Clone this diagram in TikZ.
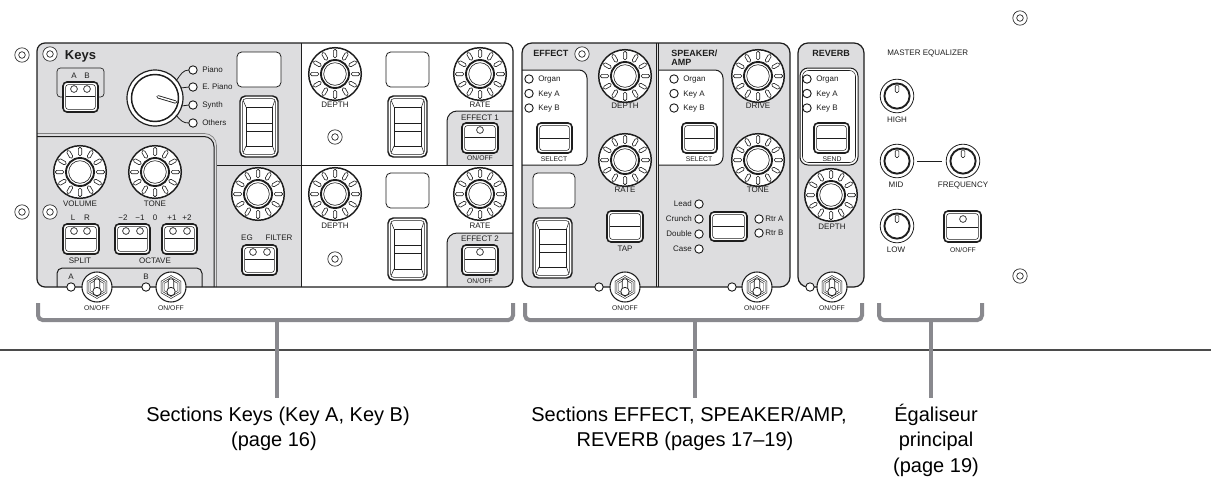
\documentclass[tikz,border=0pt]{standalone}
\usepackage{fontspec}
\setmainfont{Liberation Sans}
\usetikzlibrary{calc}
\definecolor{panelgray}{RGB}{221,221,223}
\definecolor{brkgray}{RGB}{137,137,142}
\definecolor{rulegray}{RGB}{75,75,75}
\definecolor{ink}{RGB}{30,30,30}
\newcommand\PScrew[2]{\draw[ink,line width=0.5pt,fill=white] (#1,#2) circle[radius=7.2]; \draw[ink,line width=0.5pt] (#1,#2) circle[radius=3.3];}
\newcommand\PLed[2]{\draw[ink,line width=0.7pt,fill=white] (#1,#2) circle[radius=4.2];}
\newcommand\PBLed[2]{\draw[ink,line width=0.5pt,fill=white] (#1,#2) circle[radius=3.4];}
\newcommand\PBtn[5]{%
 \draw[ink,line width=1.2pt,fill=white,rounded corners=3pt] (#1,#2) rectangle (#3,#4);
 \draw[ink,line width=0.4pt,rounded corners=2pt] ({#1+2.6},{#2+2.6}) rectangle ({#3-2.6},{#4-2.6});
 \draw[ink,line width=0.45pt] ({#1+2.6},#5) -- ({#3-2.6},#5);}
\newcommand\PDisp[4]{\draw[ink,line width=0.6pt,fill=white,rounded corners=3.5pt] (#1,#2) rectangle (#3,#4);}
\newcommand\PRocker[4]{%
 \draw[ink,line width=1.1pt,fill=white,rounded corners=4pt] (#1,#2) rectangle (#3,#4);
 \draw[ink,line width=0.4pt,rounded corners=2.5pt] ({#1+2.6},{#2+2.6}) rectangle ({#3-2.6},{#4-2.6});
 \draw[ink,line width=0.45pt] ({#1+6},{#2+11}) rectangle ({#3-5.5},{#4-11});
 \draw[ink,line width=0.4pt] ({#1+3.2},{#2+4.5}) -- ({#1+6},{#2+11}) ({#3-3.2},{#2+4.5}) -- ({#3-5.5},{#2+11}) ({#1+3.2},{#4-4.5}) -- ({#1+6},{#4-11}) ({#3-3.2},{#4-4.5}) -- ({#3-5.5},{#4-11});
 \draw[ink,line width=0.4pt] ({#1+6},{0.56*#2+0.44*#4}) -- ({#3-5.5},{0.56*#2+0.44*#4}) ({#1+6},{0.43*#2+0.57*#4}) -- ({#3-5.5},{0.43*#2+0.57*#4});}
\newcommand\PRib[2]{%
 \begin{scope}[shift={(#1,#2)}]
 \draw[ink,line width=1.1pt,fill=white] (0,0) circle[radius=26.3];
 \foreach \a in {0,30,...,330}{\draw[ink,line width=0.45pt,fill=white,rounded corners=1.1pt,rotate=\a] (16.2,-1.7) rectangle (24.6,1.7);}
 \draw[ink,line width=1.4pt,fill=white] (0,0) circle[radius=14];
 \draw[ink,line width=0.45pt] (0,0) circle[radius=11.3];
 \end{scope}}
\newcommand\PEq[2]{%
 \begin{scope}[shift={(#1,#2)}]
 \draw[ink,line width=0.6pt,fill=white] (0,0) circle[radius=16.8];
 \draw[ink,line width=1.4pt] (0,0) circle[radius=12.6];
 \draw[ink,line width=0.45pt,fill=white,rounded corners=1pt] (-1.8,-11) rectangle (1.8,-3.5);
 \end{scope}}
\newcommand\PTog[2]{%
 \begin{scope}[shift={(#1,#2)}]
 \draw[ink,line width=0.8pt,fill=white] (0,0) circle[radius=15];
 \foreach \r in {11.5,9.5,7.5}{\draw[ink,line width=0.35pt] (90:\r) -- (30:\r) -- (-30:\r) -- (-90:\r) -- (-150:\r) -- (150:\r) -- cycle;}
 \draw[ink,line width=0.55pt,fill=white,rounded corners=1.5pt] (-2.8,-8) rectangle (2.8,3);
 \draw[ink,line width=0.55pt,fill=white] (0,4.5) circle[radius=4.2];
 \end{scope}}
\begin{document}
\begin{tikzpicture}[x=0.75pt,y=-0.75pt,
  pl/.style={draw=ink,line width=0.75pt},
  lbl/.style={font=\fontsize{6}{7}\selectfont,inner sep=0pt,text height=4.3pt,text depth=0pt,text=ink},
  tiny/.style={font=\fontsize{5.1}{6}\selectfont,inner sep=0pt,text height=3.65pt,text depth=0pt,text=ink},
  ttl/.style={font=\bfseries\fontsize{6.75}{8}\selectfont,inner sep=0pt,text height=4.85pt,text depth=0pt,text=ink},
  big/.style={font=\fontsize{15}{18}\selectfont,inner sep=0pt,anchor=base},
  brk/.style={draw=brkgray,line width=3pt,rounded corners=3.5pt}]
\useasboundingbox (0,0) rectangle (1211,476);

% ---------------- Keys panel ----------------
\fill[panelgray,rounded corners=6pt] (37,43) rectangle (513,287);
\begin{scope}
 \clip[rounded corners=6pt] (37,43) rectangle (513,287);
 \fill[white] (301,43) rectangle (513,287);
 \begin{scope}
  \clip (447,100) rectangle (520,165);
  \fill[panelgray,rounded corners=7.5pt] (447,111) rectangle (540,200);
 \end{scope}
 \fill[panelgray,rounded corners=7.5pt] (447,233) rectangle (540,300);
\end{scope}
\draw[pl] (301,43) -- (301,287);
\draw[pl] (216,165) -- (513,165);
\draw[pl,rounded corners=7.5pt] (447,165) -- (447,111) -- (513,111);
\draw[pl,rounded corners=7.5pt] (447,287) -- (447,233) -- (513,233);
\draw[draw=gray,line width=0.5pt,rounded corners=9pt] (37,133.5) -- (216.5,133.5) -- (216.5,287);
\draw[pl,rounded corners=7.5pt] (37,136.5) -- (214,136.5) -- (214,287);
\draw[pl,rounded corners=4pt] (57,287) -- (57,268) -- (202,268) -- (202,287);
\draw[pl,line width=0.9pt,rounded corners=6pt] (37,43) rectangle (513,287);

\PScrew{22}{55}
\PScrew{22}{212}
\PScrew{50}{54}
\node[font=\bfseries\fontsize{9.75}{11}\selectfont,inner sep=0pt,text height=7pt,text depth=0pt,text=ink] (tkeys) at (80.5,55) {Keys};
\draw[ink,line width=0.5pt,rounded corners=2.5pt] (57,68) rectangle (104,97);
\node[lbl] (tA1) at (74,76) {A};
\node[lbl] (tB1) at (87,76) {B};
\PBtn{63}{82}{98}{112}{96}
\PBLed{74}{89}\PBLed{87}{89}

% voice selector
\draw[ink,line width=0.9pt,fill=white] (155,98) circle[radius=28];
\draw[ink,line width=1.1pt] (155,98) circle[radius=23.5];
\draw[ink,line width=2.4pt,line cap=round] (158,96.8) -- (175.5,102);
\draw[white,line width=1.1pt,line cap=round] (158,96.8) -- (175.5,102);
\draw[ink,line width=0.6pt] (176,81) .. controls (181,74) and (183,70) .. (189,70);
\draw[ink,line width=0.6pt] (180.5,88) -- (189,87);
\draw[ink,line width=0.6pt] (181.5,106) -- (189,105);
\draw[ink,line width=0.6pt] (176,115) .. controls (181,121) and (183,123) .. (189,123);
\PLed{193}{70}\PLed{193}{87}\PLed{193}{105}\PLed{193}{123}
\node[lbl,anchor=west] (tpiano) at (202,70) {Piano};
\node[lbl,anchor=west] (tepiano) at (202,87) {E. Piano};
\node[lbl,anchor=west] (tsynth) at (202,105) {Synth};
\node[lbl,anchor=west] (tothers) at (202,123) {Others};
\PDisp{237}{52}{281}{87}
\PRocker{240}{96}{278}{157}

% white upper
\PRib{335}{74}
\node[lbl] (tdep1) at (335,105) {DEPTH};
\PScrew{335}{137}
\PDisp{386}{52}{429}{87}
\PRocker{388}{96}{427}{157}
\PRib{480}{74}
\node[lbl] (trate1) at (480,105) {RATE};
\node[lbl] (tef1) at (480,117.5) {EFFECT 1};
\PBtn{462}{123}{498}{153}{137}
\PBLed{480}{130}
\node[tiny] (toof1) at (480,158.5) {ON/OFF};

% lower
\PRib{258}{194}
\node[lbl] (teg) at (247,238) {EG};
\node[lbl] (tfilter) at (279,238) {FILTER};
\PBtn{242}{245}{277}{275}{259}
\PBLed{253}{252}\PBLed{267}{252}
\PRib{335}{194}
\node[lbl] (tdep2) at (335,226) {DEPTH};
\PScrew{335}{259}
\PDisp{386}{173}{429}{208}
\PRocker{388}{218}{427}{280}
\PRib{480}{194}
\node[lbl] (trate2) at (480,226) {RATE};
\node[lbl] (tef2) at (480,239) {EFFECT 2};
\PBtn{462}{245}{498}{275}{259}
\PBLed{480}{252}
\node[tiny] (toof2) at (480,281) {ON/OFF};

% lower-left
\PRib{80}{172}
\node[lbl] (tvol) at (80,204) {VOLUME};
\PRib{155}{172}
\node[lbl] (ttone1) at (155,204) {TONE};
\PScrew{50}{212}
\node[lbl] (tL) at (73,218) {L};
\node[lbl] (tR) at (87,218) {R};
\PBtn{63}{224}{99}{254}{238}
\PBLed{74}{231}\PBLed{87}{231}
\node[lbl] (tsplit) at (80,261) {SPLIT};
\node[lbl] (tm2) at (123,218) {−2};
\node[lbl] (tm1) at (140,218) {−1};
\node[lbl] (t0) at (155,218) {0};
\node[lbl] (tp1) at (172,218) {+1};
\node[lbl] (tp2) at (187,218) {+2};
\PBtn{115}{224}{150}{254}{238}
\PBLed{126}{231}\PBLed{140}{231}
\PBtn{162}{224}{197}{254}{238}
\PBLed{173}{231}\PBLed{187}{231}
\node[lbl] (toct) at (155,261) {OCTAVE};
\node[lbl] (tA2) at (71,277) {A};
\node[lbl] (tB2) at (146,277) {B};
\PLed{71}{287}\PTog{97}{287}
\PLed{146}{287}\PTog{171}{287}
\node[tiny] (toofA) at (97,308) {ON/OFF};
\node[tiny] (toofB) at (171,308) {ON/OFF};

% ---------------- EFFECT / SPEAKER panel ----------------
\fill[panelgray,rounded corners=7.5pt] (522,43) rectangle (790,287);
\begin{scope}
 \clip[rounded corners=7.5pt] (522,43) rectangle (790,287);
 \fill[white,rounded corners=6pt] (510,70) rectangle (587,165);
 \begin{scope}
  \clip (658,60) rectangle (730,170);
  \fill[white,rounded corners=6pt] (645,70) rectangle (723,165);
 \end{scope}
\end{scope}
\draw[pl,rounded corners=6pt] (522,70) -- (587,70) -- (587,165) -- (522,165);
\draw[pl,rounded corners=6pt] (658,70) -- (723,70) -- (723,165) -- (658,165);
\draw[pl,line width=0.5pt] (656,43) -- (656,287);
\draw[pl,line width=0.5pt] (658.7,43) -- (658.7,287);
\draw[pl,line width=0.9pt,rounded corners=7.5pt] (522,43) rectangle (790,287);

\node[ttl,anchor=west] (teffect) at (533,53) {EFFECT};
\PScrew{582}{54}
\PLed{529}{79}\PLed{529}{93.5}\PLed{529}{108}
\node[lbl,anchor=west] (tor1) at (538,79) {Organ};
\node[lbl,anchor=west] (tka1) at (538,93.5) {Key A};
\node[lbl,anchor=west] (tkb1) at (538,108) {Key B};
\PBtn{537}{123}{572}{153}{138}
\node[tiny] (tsel1) at (554,159) {SELECT};
\PRib{625}{76}
\node[lbl] (tdep3) at (625,106) {DEPTH};
\PRib{625}{160}
\node[lbl] (trate3) at (625,190) {RATE};
\PDisp{533}{173}{575}{208}
\PRocker{533}{218}{572}{278}
\PBtn{607}{211}{643}{242}{226}
\node[lbl] (ttap) at (625,249) {TAP};
\PLed{599}{287}\PTog{625}{287}
\node[tiny] (toof3) at (625,308) {ON/OFF};

\node[ttl,anchor=west] (tspk) at (671,53) {SPEAKER/};
\node[ttl,anchor=west] (tamp) at (671,62) {AMP};
\PLed{674}{79}\PLed{674}{93.5}\PLed{674}{108}
\node[lbl,anchor=west] (tor2) at (683,79) {Organ};
\node[lbl,anchor=west] (tka2) at (683,93.5) {Key A};
\node[lbl,anchor=west] (tkb2) at (683,108) {Key B};
\PBtn{682}{123}{717}{153}{138}
\node[tiny] (tsel2) at (699,159) {SELECT};
\PRib{758}{76}
\node[lbl] (tdrive) at (758,106) {DRIVE};
\PRib{758}{160}
\node[lbl] (ttone2) at (758,190) {TONE};
\node[lbl,anchor=east] (tlead) at (692,204) {Lead};
\node[lbl,anchor=east] (tcrunch) at (692,219) {Crunch};
\node[lbl,anchor=east] (tdouble) at (692,234) {Double};
\node[lbl,anchor=east] (tcase) at (692,249) {Case};
\PLed{699}{204}\PLed{699}{219}\PLed{699}{234}\PLed{699}{249}
\PBtn{710}{212}{747}{241}{226}
\PLed{759}{219}\PLed{759}{233}
\node[lbl,anchor=west] (trtra) at (765,219) {Rtr A};
\node[lbl,anchor=west] (trtrb) at (765,233) {Rtr B};
\PLed{732}{287}\PTog{757}{287}
\node[tiny] (toof4) at (757,308) {ON/OFF};

% ---------------- REVERB panel ----------------
\draw[pl,line width=0.9pt,fill=panelgray,rounded corners=7.5pt] (798,43) rectangle (864,287);
\node[ttl] (trev) at (831,53) {REVERB};
\draw[pl,fill=white,rounded corners=6pt] (800,68) rectangle (858,165);
\draw[ink,line width=0.4pt,rounded corners=4.5pt] (802.5,70.5) rectangle (855.5,162.5);
\PLed{807}{79}\PLed{807}{93.5}\PLed{807}{108}
\node[lbl,anchor=west] (tor3) at (816,79) {Organ};
\node[lbl,anchor=west] (tka3) at (816,93.5) {Key A};
\node[lbl,anchor=west] (tkb3) at (816,108) {Key B};
\PBtn{814}{123}{849}{153}{138}
\node[tiny] (tsend) at (832,159) {SEND};
\PRib{831}{195}
\node[lbl] (tdep4) at (832,227) {DEPTH};
\PLed{810}{287}\PTog{832}{287}
\node[tiny] (toof5) at (832,308) {ON/OFF};

% ---------------- Master EQ ----------------
\node[lbl,anchor=west] (tmeq) at (887,53) {MASTER EQUALIZER};
\PEq{897}{96}
\node[lbl] (thigh) at (897,120) {HIGH};
\PEq{897}{161}
\node[lbl] (tmid) at (896,185) {MID};
\draw[ink,line width=0.7pt] (917,161) -- (942,161);
\PEq{963}{161}
\node[lbl] (tfreq) at (963,185) {FREQUENCY};
\PEq{897}{226}
\node[lbl] (tlow) at (896,250) {LOW};
\PBtn{944}{211}{981}{242}{227}
\PBLed{963}{219}
\node[tiny] (toof6) at (963,250) {ON/OFF};
\PScrew{1020}{18}
\PScrew{1020}{276}

% ---------------- brackets and labels ----------------
\draw[brk] (38,303) -- (38,320) -- (513,320) -- (513,303);
\draw[brk] (525,303) -- (525,320) -- (862,320) -- (862,303);
\draw[brk] (879,303) -- (879,320) -- (982,320) -- (982,303);
\draw[rulegray,line width=0.9pt] (0,350) -- (1211,350);

\node[big] (lk1) at (278,421) {Sections Keys (Key A, Key B)};
\node[big] (lk2) at (274,446.5) {(page 16)};
\node[big] (le1) at (689,421) {Sections EFFECT, SPEAKER/AMP,};
\node[big] (le2) at (685,446.5) {REVERB (pages 17–19)};
\node[big] (lq1) at (936,421) {Égaliseur};
\node[big] (lq2) at (936,446.5) {principal};
\node[big] (lq3) at (936,472) {(page 19)};
\coordinate (sk) at (277,320);
\coordinate (se) at (695,320);
\coordinate (sq) at (931,320);
\draw[brkgray,line width=3pt] (sk) -- (277,398);
\draw[brkgray,line width=3pt] (se) -- (695,398);
\draw[brkgray,line width=3pt] (sq) -- (931,398);
\end{tikzpicture}
\end{document}
